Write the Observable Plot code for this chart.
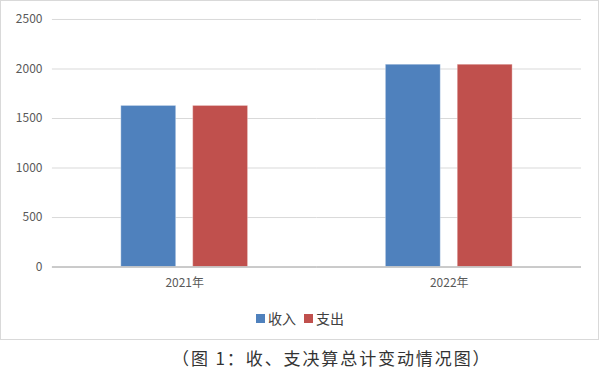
<!DOCTYPE html>
<html>
<head>
<meta charset="utf-8">
<script src="https://cdn.jsdelivr.net/npm/d3@7"></script>
<script src="https://cdn.jsdelivr.net/npm/@observablehq/plot@0.6"></script>
<style>
  html, body { margin: 0; padding: 0; background: #fff; }
  body { width: 600px; height: 377px; position: relative; overflow: hidden;
         font-family: "Noto Sans CJK SC", "Noto Sans", sans-serif; }
  #box { position: absolute; left: 0; top: 0; width: 597px; height: 338px;
         border: 1.5px solid #d9d9d9; box-sizing: content-box; }
  #chart { position: absolute; left: 0; top: 0; }
  #legend { position: absolute; left: 0; width: 598px; top: 307px; display: flex;
            justify-content: center; gap: 8px; font-size: 14px; color: #404040; }
  #legend span { display: inline-flex; align-items: center; }
  #legend i { display: inline-block; width: 9px; height: 9px; margin-right: 3px; }
  #caption { position: absolute; left: 172px; top: 345px; font-size: 17px; color: #333;
             white-space: nowrap; letter-spacing: 1.9px; }
</style>
</head>
<body>
<div id="box">
  <div id="chart"></div>
  <div id="legend"></div>
</div>
<div id="caption"></div>
<script>
const years = ["2021年", "2022年"];
const series = ["收入", "支出"];
const income = [1627, 2043];
const expense = [1627, 2043];
const yTicks = [0, 500, 1000, 1500, 2000, 2500];
const colors = ["#4F81BD", "#C0504D"];
const captionText = "（图 1：收、支决算总计变动情况图）";

const data = years.flatMap((y, i) => [
  {year: y, series: series[0], value: income[i]},
  {year: y, series: series[1], value: expense[i]}
]);

const chart = Plot.plot({
  width: 598,
  height: 295,
  marginTop: 18,
  marginBottom: 29,
  marginLeft: 50,
  marginRight: 17,
  style: {fontFamily: '"Noto Sans CJK SC", "Noto Sans", sans-serif', fontSize: "12px", color: "#595959", background: "transparent"},
  fx: {domain: years, padding: 0, label: null},
  x: {domain: series, paddingInner: 0.233, paddingOuter: 0.935, axis: null},
  y: {domain: [0, 2500], label: null},
  color: {domain: series, range: colors},
  marks: [
    Plot.gridY(yTicks, {stroke: "#d9d9d9", strokeOpacity: 1, strokeWidth: 1}),
    Plot.barY(data, {fx: "year", x: "series", y: "value", fill: "series", stroke: "#ffffff", strokeOpacity: 0.35, strokeWidth: 1}),
    Plot.ruleY([0], {stroke: "#bfbfbf", strokeWidth: 1.5}),
    Plot.axisY({ticks: yTicks, tickFormat: d => String(d), tickSize: 0, tickPadding: 10, label: null, fill: "#595959", fontSize: 12}),
    Plot.axisFx({anchor: "bottom", tickSize: 0, tickPadding: 11, label: null, fill: "#595959", fontSize: 12})
  ]
});
document.getElementById("chart").appendChild(chart);

const legend = document.getElementById("legend");
series.forEach((s, i) => {
  const span = document.createElement("span");
  const sw = document.createElement("i");
  sw.style.background = colors[i];
  span.appendChild(sw);
  span.appendChild(document.createTextNode(s));
  legend.appendChild(span);
});
document.getElementById("caption").textContent = captionText;
</script>
</body>
</html>
